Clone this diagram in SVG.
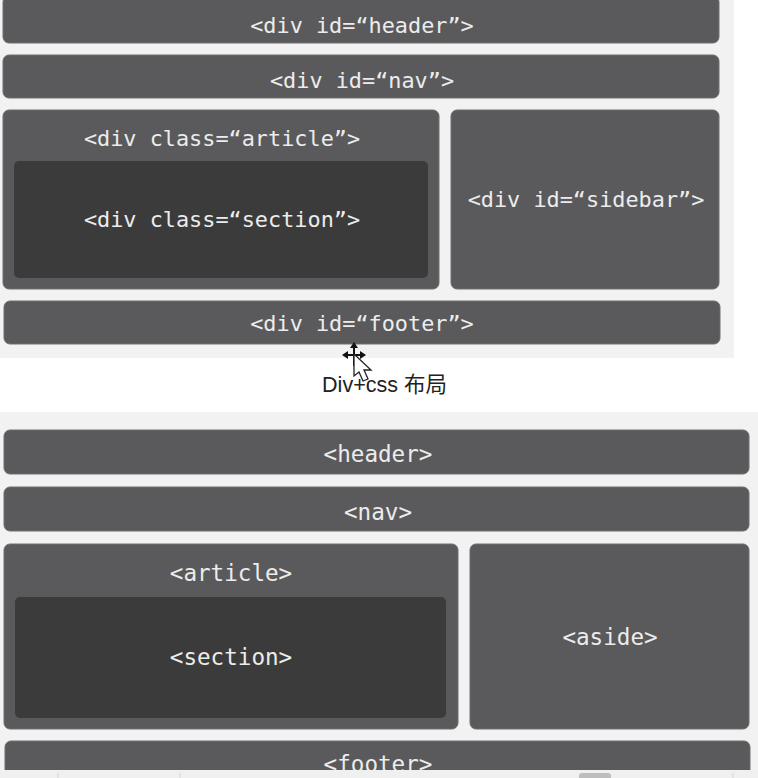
<svg xmlns="http://www.w3.org/2000/svg" width="758" height="778" viewBox="0 0 758 778">
<style>
.b{fill:#5a5a5c;stroke:#6e6e70;stroke-width:1}
.d{fill:#3b3b3b}
.t{font-family:"DejaVu Sans Mono","Liberation Mono",monospace;fill:#ececec;text-anchor:middle;font-size:21.85px}
.u{font-family:"DejaVu Sans Mono","Liberation Mono",monospace;fill:#ececec;text-anchor:middle;font-size:22.6px}
</style>
<rect width="758" height="778" fill="#fff"/>
<rect x="0" y="0" width="734" height="358" fill="#f2f2f2"/>
<rect x="0" y="412" width="758" height="366" fill="#f2f2f2"/>
<g id="top-header"><rect class="b" x="3" y="-4" width="716" height="47" rx="6"/><text class="t" x="362" y="32.5">&lt;div id=“header”&gt;</text></g>
<g id="top-nav"><rect class="b" x="3" y="55" width="716" height="43" rx="6"/><text class="t" x="362" y="87.5">&lt;div id=“nav”&gt;</text></g>
<g id="top-article"><rect class="b" x="3" y="110" width="436" height="179" rx="6"/><text class="t" x="222" y="146">&lt;div class=“article”&gt;</text></g>
<g id="top-section"><rect class="d" x="14" y="161" width="414" height="117" rx="5"/><text class="t" x="222" y="227">&lt;div class=“section”&gt;</text></g>
<g id="top-sidebar"><rect class="b" x="451" y="110" width="268" height="179" rx="6"/><text class="t" x="586" y="207">&lt;div id=“sidebar”&gt;</text></g>
<g id="top-footer"><rect class="b" x="4" y="301" width="716" height="43" rx="6"/><text class="t" x="362" y="330.5">&lt;div id=“footer”&gt;</text></g>
<text id="caption" x="384.5" y="392" text-anchor="middle" font-size="21.5" fill="#222" font-family="'Liberation Sans','Noto Sans CJK SC',sans-serif">Div+css 布局</text>
<g id="cursor">
<path d="M354 345V366M344 355H364" stroke="#111" stroke-width="2" fill="none"/>
<path d="M354 342l-4 6h8zM342 355l6-4v8zM366 355l-6-4v8z" fill="#111"/>
<path d="M354 354V376l5-4 4 9 5-2-4-9h7z" fill="#fff" stroke="#222" stroke-width="1.3"/>
</g>
<g id="bot-header"><rect class="b" x="4" y="430" width="745" height="44" rx="6"/><text class="u" x="378" y="461.5">&lt;header&gt;</text></g>
<g id="bot-nav"><rect class="b" x="4" y="487" width="745" height="44" rx="6"/><text class="u" x="378" y="519.5">&lt;nav&gt;</text></g>
<g id="bot-article"><rect class="b" x="4" y="544" width="454" height="185" rx="6"/><text class="u" x="231" y="580.5">&lt;article&gt;</text></g>
<g id="bot-section"><rect class="d" x="15" y="597" width="431" height="121" rx="5"/><text class="u" x="231" y="665">&lt;section&gt;</text></g>
<g id="bot-aside"><rect class="b" x="470" y="544" width="279" height="185" rx="6"/><text class="u" x="610" y="644.5">&lt;aside&gt;</text></g>
<g id="bot-footer"><rect class="b" x="5" y="741" width="745" height="50" rx="6"/><text class="u" x="378" y="772">&lt;footer&gt;</text></g>
<g id="bar"><rect x="0" y="770" width="758" height="8" fill="#f0f0f0"/><rect x="579" y="773" width="32" height="8" rx="3" fill="#bdbdbd"/><path d="M58 773V778M180 773V778M733 773V778" stroke="#d4d4d4" fill="none"/></g>
</svg>
